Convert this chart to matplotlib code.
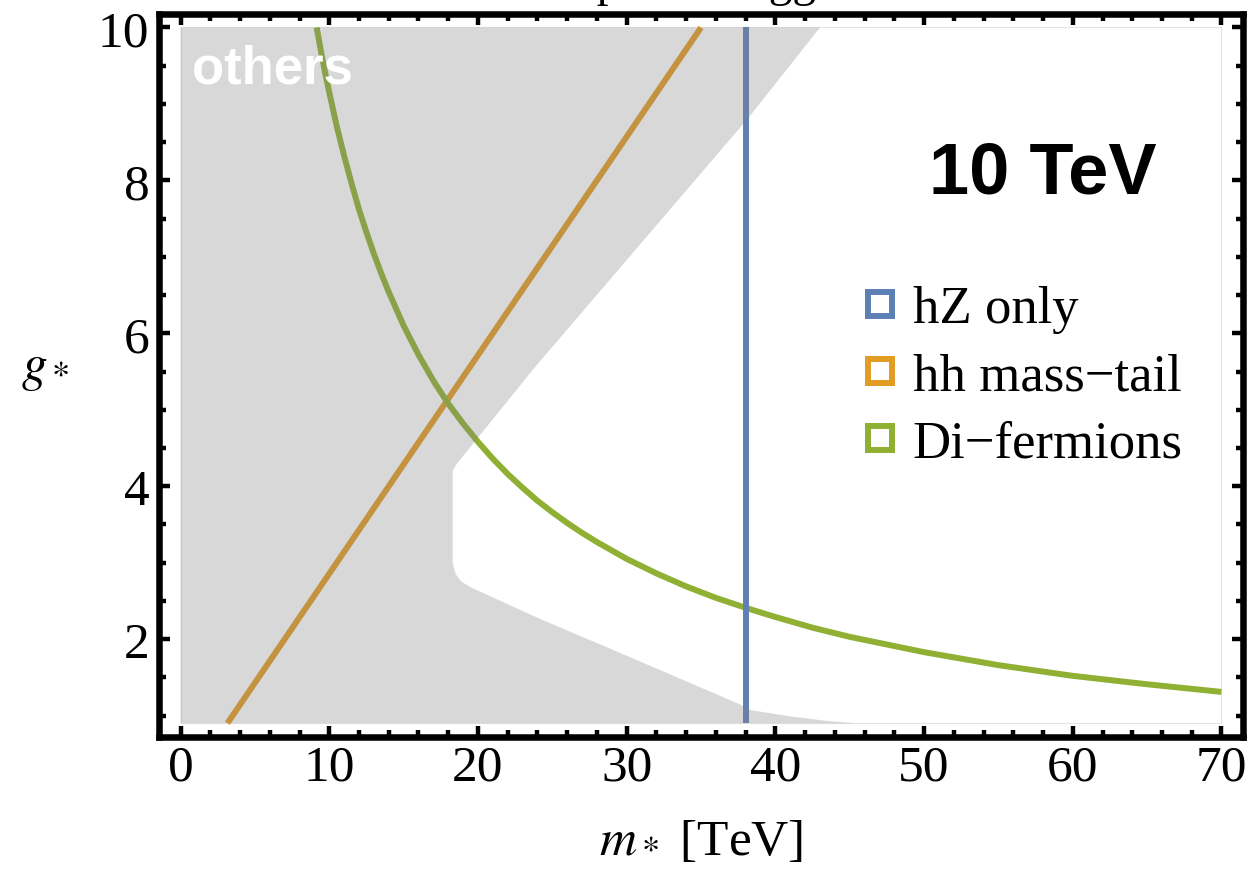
import numpy as np
import matplotlib.pyplot as plt
from matplotlib.lines import Line2D
from matplotlib.patches import Polygon, Rectangle

plt.rcParams['font.family'] = ['Liberation Serif', 'DejaVu Serif']
plt.rcParams['mathtext.fontset'] = 'stix'

# colours (Mathematica default palette)
BLUE = '#5E81B5'
ORANGE = '#E19C24'
GREEN = '#8FB032'

# plot region
M_MIN, M_MAX = 0, 70
G_MIN, G_MAX = 0.9, 10

# "others" excluded region (m*, g*)
others_m = [0, 0, 43.0, 38.2, 23.8, 20.6, 18.6, 18.3, 18.3, 18.5, 18.9, 19.6,
            24.0, 31.0, 37.7, 38.4, 41.0, 43.5, 45.4]
others_g = [0.9, 10, 10, 8.82, 5.55, 4.78, 4.30, 4.20, 3.00, 2.85, 2.75, 2.67,
            2.28, 1.70, 1.14, 1.07, 0.99, 0.93, 0.9]

# hZ only: vertical bound
hz_m = [38.0, 38.0]
hz_g = [0.9, 10]

# hh mass-tail: straight line
hh_m = [3.15, 35.0]
hh_g = [0.9, 10]

# Di-fermions curve
df_m = [9.15, 9.3, 9.5, 9.75, 10, 10.5, 11, 11.5, 12, 12.5, 13, 13.5, 14, 15,
        16, 17, 18, 19, 20, 21, 22, 23, 24, 25, 26, 27, 28, 30, 32, 34, 36,
        38, 40, 42.5, 45, 47.5, 50, 55, 60, 65, 70]
df_g = [10.0, 9.84, 9.63, 9.38, 9.15, 8.71, 8.32, 7.96, 7.62, 7.32, 7.04,
        6.78, 6.54, 6.10, 5.72, 5.38, 5.08, 4.82, 4.58, 4.36, 4.16, 3.98,
        3.81, 3.66, 3.52, 3.39, 3.27, 3.05, 2.86, 2.69, 2.54, 2.41, 2.29,
        2.15, 2.03, 1.93, 1.83, 1.66, 1.52, 1.41, 1.31]

legend_labels = ['hZ only', 'hh mass\u2212tail', 'Di\u2212fermions']

fig = plt.figure(figsize=(12.58, 8.70), dpi=100)
ax = fig.add_axes([0.1264, 0.1517, 0.9881 - 0.1264, 0.9822 - 0.1517])

# lines
ax.plot(hh_m, hh_g, color=ORANGE, lw=4.3, zorder=1, solid_capstyle='butt')
ax.plot(df_m, df_g, color=GREEN, lw=4.3, zorder=1, solid_capstyle='butt')
ax.plot(hz_m, hz_g, color=BLUE, lw=4.3, zorder=1, solid_capstyle='butt')

# gray region drawn over the lines
ax.add_patch(Polygon(np.column_stack([others_m, others_g]), closed=True,
                     facecolor='#808080', alpha=0.3, edgecolor='none', zorder=2))
ax.add_patch(Rectangle((M_MIN, G_MIN), M_MAX - M_MIN, G_MAX - G_MIN, fill=False,
                       edgecolor='#E4E4E4', lw=0.8, zorder=0))

ax.text(0.77, 9.28, 'others', color='white', fontsize=38, fontweight='bold',
        family='Liberation Sans', va='baseline', ha='left', zorder=3)
ax.text(58.0, 7.84, '10 TeV', color='black', fontsize=52, fontweight='bold',
        family='Liberation Sans', va='baseline', ha='center', zorder=3)

handles = [Line2D([], [], ls='none', marker='s', ms=17, mew=4.3, mfc='white', mec=c)
           for c in (BLUE, ORANGE, GREEN)]
ax.legend(handles, legend_labels, loc='upper left', bbox_to_anchor=(0.651, 0.6256),
          frameon=False, fontsize=38, handlelength=0.57, handletextpad=0.34,
          labelspacing=0.36, borderpad=0, borderaxespad=0)

ax.set_xlim(-1.45, 71.45)
ax.set_ylim(0.72, 10.17)
ax.set_xticks(np.arange(0, 71, 10))
ax.set_xticks(np.arange(0, 71, 2), minor=True)
ax.set_yticks(np.arange(2, 11, 2))
ax.set_yticks(np.arange(1, 10.01, 0.5), minor=True)
ax.tick_params(which='both', direction='in', top=True, right=True, width=3.2,
               labelsize=37, color='black')
ax.tick_params(which='major', length=8.1)
ax.tick_params(which='minor', length=5.3)
ax.tick_params(axis='x', which='major', pad=5)
ax.tick_params(axis='y', which='major', pad=7)
for sp in ax.spines.values():
    sp.set_linewidth(4.7)

ax.set_xlabel(r'$m_*$ [TeV]', fontsize=37, labelpad=20)
ax.set_ylabel(r'$g_*$', fontsize=37, rotation=0, va='center', ha='center')
ax.yaxis.set_label_coords(-0.105, 0.51)

# title sits above the canvas, only its descenders show
fig.text(670 / 1258, 1 + 4 / 870, 'Composite Higgs', fontsize=34, ha='center',
         va='baseline')

fig.savefig('out.png', dpi=100)
